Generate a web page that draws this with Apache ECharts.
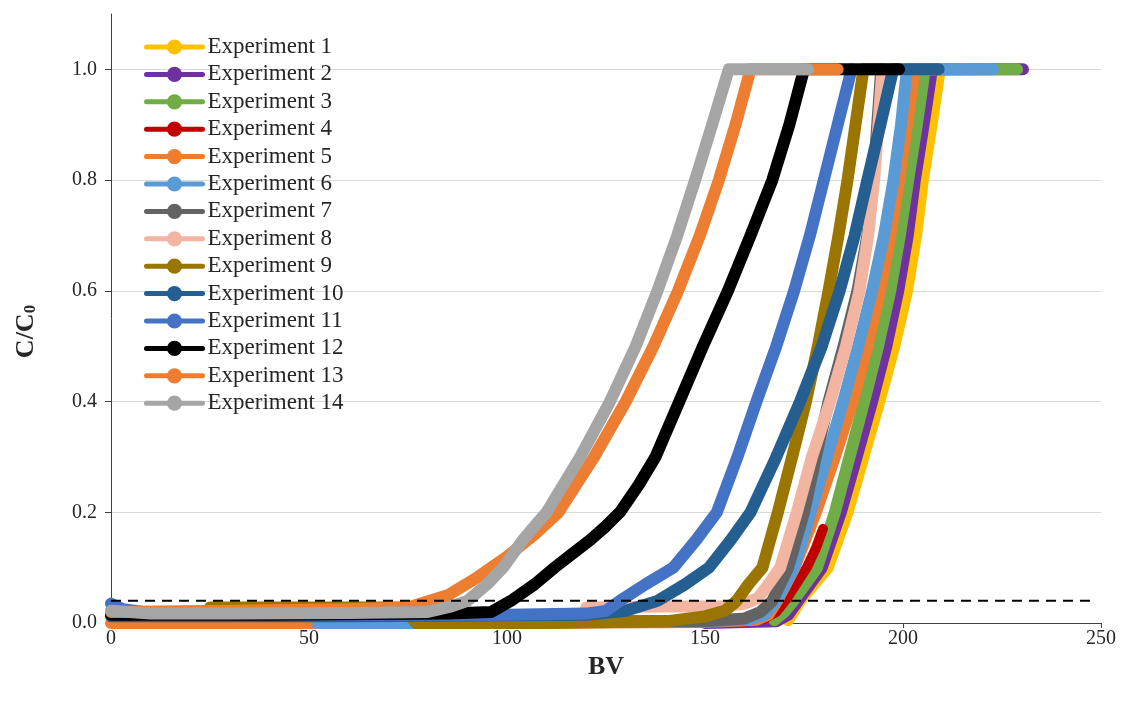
<!DOCTYPE html>
<html>
<head>
<meta charset="utf-8">
<script src="https://cdn.jsdelivr.net/npm/echarts@6/dist/echarts.min.js"></script>
<style>html,body{margin:0;padding:0;background:#fff}#c{width:1132px;height:702px}</style>
</head>
<body>
<div id="c"></div>
<script>
const seriesNames = ['Experiment 1','Experiment 2','Experiment 3','Experiment 4','Experiment 5','Experiment 6','Experiment 7','Experiment 8','Experiment 9','Experiment 10','Experiment 11','Experiment 12','Experiment 13','Experiment 14'];
const xTicks = [0, 50, 100, 150, 200, 250];
const yTicks = [0, 0.2, 0.4, 0.6, 0.8, 1.0];
const threshold = 0.04;
const thresholdX = [-4.3, 248.5];

const exp1 = [[171,0.005],[174,0.04],[177.5,0.07],[181,0.1],[186,0.2],[190,0.3],[194,0.4],[197.8,0.5],[201,0.6],[203.3,0.7],[205,0.8],[207.2,0.9],[209.3,1.0],[218,1.0]];
const exp2 = [[150,0.0],[168,0.003],[171,0.015],[173.5,0.04],[176.5,0.07],[179.5,0.1],[184.3,0.2],[188.3,0.3],[192.2,0.4],[195.8,0.5],[198.8,0.6],[201.2,0.7],[203,0.8],[205.2,0.9],[207.3,1.0],[219,1.0],[230.3,1.0]];
const exp3 = [[167.5,0.005],[170,0.02],[172.3,0.04],[175.3,0.07],[178.3,0.1],[182.8,0.2],[186.5,0.3],[190.2,0.4],[193.7,0.5],[196.8,0.6],[199.2,0.7],[201.3,0.8],[203.5,0.9],[205.5,1.0],[217,1.0],[228.8,1.0]];
const exp4 = [[140,0.0],[160,0.002],[165,0.008],[168,0.02],[170.2,0.04],[173,0.07],[175.7,0.1],[178,0.135],[179.8,0.17]];
const exp5 = [[0,0.0],[25,0.0],[50,0.0],[100,0.0],[150,0.002],[163,0.006],[166,0.015],[168.2,0.04],[172.6,0.1],[178,0.2],[182.8,0.3],[187.3,0.4],[191,0.5],[194.2,0.6],[196.8,0.7],[199,0.8],[201,0.9],[203,1.0],[215,1.0]];
const exp6 = [[52,0.0],[76,0.0],[120,0.002],[160,0.005],[165,0.015],[168,0.04],[172.5,0.1],[176.7,0.2],[180.8,0.3],[184.9,0.4],[188.7,0.5],[192.2,0.6],[195.2,0.7],[197.6,0.8],[199.5,0.9],[201,1.0],[212,1.0],[222.7,1.0]];
const exp7 = [[100,0.003],[150,0.003],[160,0.008],[164,0.02],[167,0.04],[171,0.1],[175,0.2],[178,0.3],[181.2,0.4],[185,0.5],[188.5,0.6],[191,0.7],[192.5,0.8],[193.5,0.9],[194.5,1.0],[198,1.0]];
const exp8 = [[120,0.028],[140,0.03],[155,0.03],[160,0.035],[163.4,0.045],[166,0.07],[169,0.1],[173.2,0.2],[177,0.3],[181.6,0.4],[185.6,0.5],[189,0.6],[191.2,0.7],[192.7,0.8],[193.8,0.9],[194.8,1.0],[200,1.0]];
const exp9 = [[25,0.028],[50,0.028],[74,0.028],[77,0.0],[110,0.0],[140,0.003],[150,0.012],[155,0.022],[158,0.04],[161,0.07],[164.5,0.1],[168.4,0.2],[172,0.3],[175.5,0.4],[178.5,0.5],[181.2,0.6],[183.7,0.7],[186,0.8],[188,0.9],[190,1.0],[195,1.0]];
const exp10 = [[0,0.012],[60,0.012],[120,0.015],[130,0.022],[138,0.04],[145,0.07],[151,0.1],[156.5,0.15],[161.5,0.2],[168,0.3],[174,0.4],[179.5,0.5],[184,0.6],[187.8,0.7],[191,0.8],[194.3,0.9],[197.5,1.0],[209,1.0]];
const exp11 = [[0,0.035],[3,0.025],[10,0.018],[50,0.015],[100,0.015],[120,0.017],[125,0.022],[128.5,0.04],[135,0.07],[142,0.1],[147.8,0.15],[153,0.2],[158.2,0.3],[163,0.4],[168,0.5],[172.5,0.6],[176.5,0.7],[180,0.8],[183.5,0.9],[187,1.0]];
const exp12 = [[0,0.015],[40,0.015],[85,0.017],[96,0.02],[101,0.04],[107,0.07],[112,0.1],[116.5,0.125],[121,0.15],[125,0.175],[128.5,0.2],[133.3,0.25],[137.5,0.3],[143.5,0.4],[149.5,0.5],[155.8,0.6],[161.5,0.7],[167,0.8],[171.3,0.9],[175,1.0],[187,1.0],[199,1.0]];
const exp13 = [[0,0.02],[30,0.022],[60,0.025],[75,0.028],[85,0.05],[92,0.08],[100,0.12],[107,0.16],[113,0.2],[122,0.3],[130,0.4],[137,0.5],[143.2,0.6],[148.7,0.7],[153.5,0.8],[157.7,0.9],[161.5,1.0],[172,1.0],[183.5,1.0]];
const exp14 = [[0,0.022],[10,0.017],[30,0.017],[60,0.018],[80,0.02],[86,0.03],[90,0.04],[95,0.07],[99,0.1],[104,0.15],[110,0.2],[118.5,0.3],[126,0.4],[132.5,0.5],[138,0.6],[143,0.7],[147.5,0.8],[151.8,0.9],[156,1.0],[165,1.0],[176,1.0]];

const allData = [exp1,exp2,exp3,exp4,exp5,exp6,exp7,exp8,exp9,exp10,exp11,exp12,exp13,exp14];
const colors = ['#FFC000','#7030A0','#70AD47','#C00000','#ED7D31','#5B9BD5','#636363','#F2B5A2','#9A7500','#255E91','#4472C4','#000000','#ED7D31','#A5A5A5'];
const serif = "'Liberation Serif','Times New Roman',serif";

const series = allData.map((d, i) => ({
  name: seriesNames[i],
  type: 'line',
  data: d,
  smooth: false,
  symbol: 'circle',
  symbolSize: 14,
  showSymbol: false,
  color: colors[i],
  lineStyle: { width: i === 3 ? 10 : 12, color: colors[i], cap: 'round', join: 'round' },
  itemStyle: { color: colors[i] },
  emphasis: { disabled: true },
  animation: false
}));
series.push({
  name: 'threshold',
  type: 'line',
  data: [[thresholdX[0], threshold], [thresholdX[1], threshold]],
  showSymbol: false,
  symbol: 'none',
  clip: false,
  z: 5,
  lineStyle: { color: '#000', width: 2, type: [10, 7] },
  emphasis: { disabled: true },
  animation: false
});

const chart = echarts.init(document.getElementById('c'), null, { renderer: 'canvas' });
chart.setOption({
  backgroundColor: '#fff',
  animation: false,
  grid: { left: 111, right: 31, top: 14, bottom: 79, containLabel: false },
  legend: {
    data: seriesNames,
    orient: 'vertical',
    left: 144,
    top: 35.5,
    padding: 0,
    itemWidth: 56,
    itemHeight: 19,
    itemGap: 4.4,
    lineStyle: { width: 5 },
    textStyle: { fontFamily: serif, fontSize: 23, color: '#262626' },
    selectedMode: false
  },
  xAxis: {
    type: 'value',
    min: 0, max: 250, interval: 50,
    name: 'BV',
    nameLocation: 'middle',
    nameGap: 21,
    nameTextStyle: { fontFamily: serif, fontSize: 26, fontWeight: 'bold', color: '#262626' },
    axisLine: { show: true, onZero: false, lineStyle: { color: '#404040', width: 1 } },
    axisTick: { show: true, inside: false, length: 5, lineStyle: { color: '#404040' } },
    axisLabel: { fontFamily: serif, fontSize: 20, color: '#262626', margin: 6, formatter: v => xTicks.includes(v) ? String(v) : '' },
    splitLine: { show: false }
  },
  yAxis: {
    type: 'value',
    min: 0, max: 1.1,
    name: '{a|C/C}{b|0}',
    nameLocation: 'middle',
    nameRotate: 90,
    nameGap: 72,
    nameTextStyle: {
      padding: [0, 26, 0, 0],
      rich: {
        a: { fontFamily: serif, fontSize: 26, fontWeight: 'bold', color: '#262626' },
        b: { fontFamily: serif, fontSize: 17, fontWeight: 'bold', color: '#262626', verticalAlign: 'bottom', padding: [9,0,0,0] }
      }
    },
    axisLine: { show: true, lineStyle: { color: '#404040', width: 1 } },
    axisTick: { show: true, inside: false, length: 6, customValues: yTicks, lineStyle: { color: '#404040' } },
    axisLabel: { fontFamily: serif, fontSize: 20, color: '#262626', margin: 14, customValues: yTicks, formatter: v => v.toFixed(1) },
    splitLine: { show: true, lineStyle: { color: '#d9d9d9', width: 1 } }
  },
  series: series
});
</script>
</body>
</html>
